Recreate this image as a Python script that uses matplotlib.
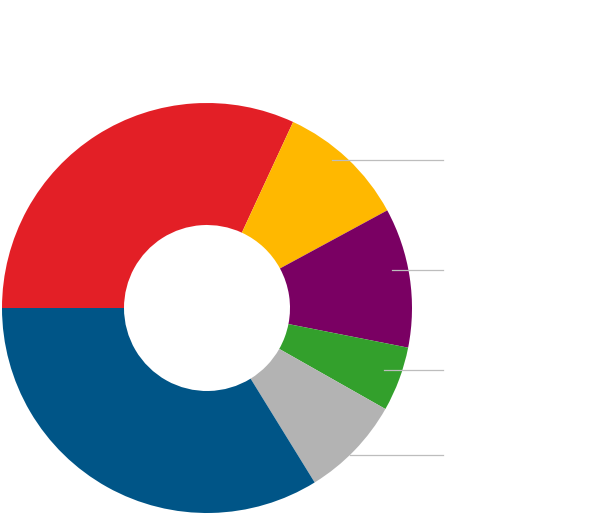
import matplotlib.pyplot as plt

# slice shares (percent), clockwise from 9 o'clock
labels = ['Red', 'Yellow', 'Purple', 'Green', 'Grey', 'Blue']
values = [31.9, 10.2, 11.0, 5.1, 8.0, 33.8]
colors = ['#E31F26', '#FFB800', '#7A0063', '#33A02C', '#B3B3B3', '#005587']

# leader lines (pixel layout: y, x start, x end)
leader_y = [370, 260, 160, 75]
leader_x0 = [332, 392, 384, 350]
leader_x1 = 443

fig = plt.figure(figsize=(6, 5.3), dpi=100)
ax = fig.add_axes([0, 0, 1, 1])
ax.set_xlim(0, 600)
ax.set_ylim(0, 530)
ax.set_aspect('equal')
ax.axis('off')

ax.pie(values, colors=colors, startangle=180, counterclock=False,
       center=(207, 222), radius=205,
       wedgeprops=dict(width=122, linewidth=0, antialiased=True))
ax.set_xlim(0, 600)
ax.set_ylim(0, 530)

for y, x0 in zip(leader_y, leader_x0):
    ax.plot([x0, leader_x1], [y, y], color='#BDBDBD', linewidth=0.9)

fig.savefig('out.png', dpi=100)
